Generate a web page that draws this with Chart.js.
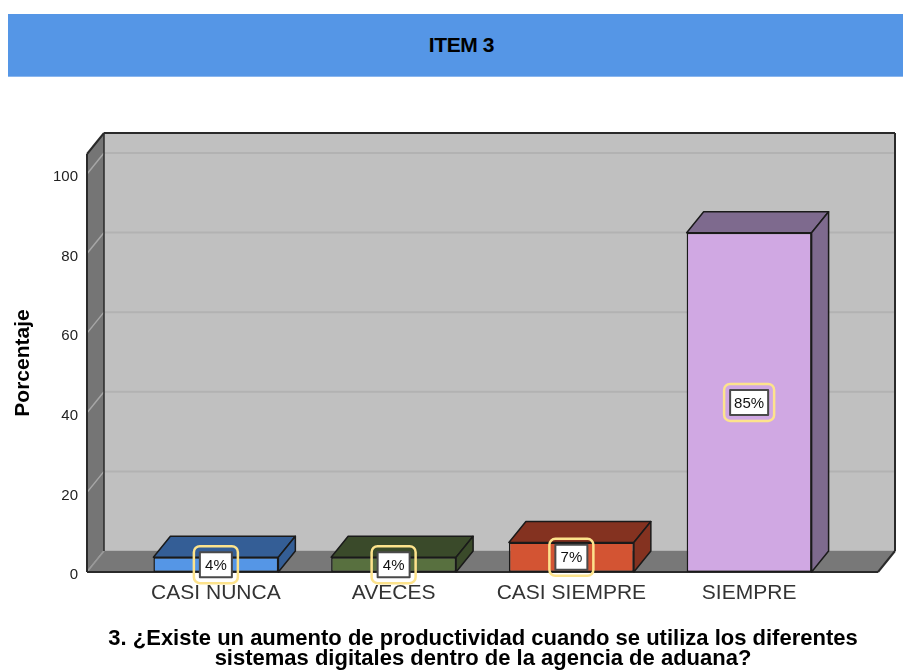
<!DOCTYPE html>
<html>
<head>
<meta charset="utf-8">
<script src="https://cdn.jsdelivr.net/npm/chart.js@4.4.1/dist/chart.umd.min.js"></script>
<style>
  html, body { margin: 0; padding: 0; background: #fff; }
  #wrap { position: relative; width: 903px; height: 671px; overflow: hidden; }
  #chart { position: absolute; left: 0; top: 0; }
  #header {
    position: absolute; left: 8px; top: 14px; width: 895px; height: 63px;
    background: #5596e6; border-bottom: 1px solid #8ab6ee; box-sizing: border-box;
    font: bold 21px "Liberation Sans", Arial, sans-serif; color: #000;
    display: flex; align-items: center; justify-content: center; padding-left: 12px;
    letter-spacing: -0.4px;
  }
  #question {
    position: absolute; left: 0; top: 628px; width: 903px; box-sizing: border-box;
    padding-left: 63px; text-align: center; white-space: pre;
    font: bold 22px/20px "Liberation Sans", Arial, sans-serif; color: #000;
  }
</style>
</head>
<body>
<div id="wrap">
  <canvas id="chart" width="903" height="671"></canvas>
  <div id="header">ITEM 3</div>
  <div id="question"></div>
</div>
<script>
const categories = ["CASI NUNCA", "AVECES", "CASI SIEMPRE", "SIEMPRE"]
const percentages = [3.7, 3.7, 7.4, 85.2]
const yTicks = [0, 20, 40, 60, 80, 100]
const questionLines = [
  "3. ¿Existe un aumento de productividad cuando se utiliza los diferentes",
  "sistemas digitales dentro de la agencia de aduana?"
]

const frontColors = ["#5596e6", "#58703f", "#d35433", "#d0a8e3"]
const darkColors = ["#345e96", "#3a4a2a", "#843220", "#7e6a8e"]

const FONT = '"Liberation Sans", Arial, sans-serif'
const DX = 17
const DY = 21
const WALL_OUT = 40

document.getElementById("question").textContent = questionLines.join("\n")

function poly(ctx, pts, fill, stroke, lw) {
  ctx.beginPath()
  ctx.moveTo(pts[0][0], pts[0][1])
  for (let i = 1; i < pts.length; i++) ctx.lineTo(pts[i][0], pts[i][1])
  ctx.closePath()
  if (fill) { ctx.fillStyle = fill; ctx.fill() }
  if (stroke) { ctx.strokeStyle = stroke; ctx.lineWidth = lw || 1; ctx.stroke() }
}

function line(ctx, x1, y1, x2, y2, color, lw) {
  ctx.beginPath()
  ctx.moveTo(x1, y1)
  ctx.lineTo(x2, y2)
  ctx.strokeStyle = color
  ctx.lineWidth = lw
  ctx.stroke()
}

function roundRect(ctx, x, y, w, h, r) {
  ctx.beginPath()
  ctx.moveTo(x + r, y)
  ctx.arcTo(x + w, y, x + w, y + h, r)
  ctx.arcTo(x + w, y + h, x, y + h, r)
  ctx.arcTo(x, y + h, x, y, r)
  ctx.arcTo(x, y, x + w, y, r)
  ctx.closePath()
}

// walls, floor and gridlines behind the bars
const box3d = {
  id: "box3d",
  beforeDatasetsDraw(chart) {
    const { ctx, chartArea: a, scales: { y } } = chart
    const L = a.left - WALL_OUT, R = a.right + WALL_OUT, T = a.top, B = a.bottom
    ctx.save()

    // back wall
    poly(ctx, [[L + DX, T - DY], [R + DX, T - DY], [R + DX, B - DY], [L + DX, B - DY]], "#c0c0c0")
    y.ticks.forEach(t => {
      const py = y.getPixelForValue(t.value) - DY
      line(ctx, L + DX, py, R + DX, py, "#b2b2b2", 2)
    })

    // left wall
    poly(ctx, [[L, T], [L + DX, T - DY], [L + DX, B - DY], [L, B]], "#757575")
    y.ticks.forEach(t => {
      const py = y.getPixelForValue(t.value)
      line(ctx, L, py, L + DX, py - DY, "#a6a6a6", 1.5)
    })

    // floor
    poly(ctx, [[L, B], [L + DX, B - DY], [R + DX, B - DY], [R, B]], "#787878")
    line(ctx, L, B, L + DX, B - DY, "#9a9a9a", 1.5)

    // outlines
    ctx.lineJoin = "round"
    line(ctx, L, B, L, T, "#2a2a2a", 2)
    line(ctx, L, T, L + DX, T - DY, "#2a2a2a", 2)
    line(ctx, L + DX, T - DY, L + DX, B - DY, "#2a2a2a", 1.5)
    line(ctx, L + DX, T - DY, R + DX, T - DY, "#2a2a2a", 2)
    line(ctx, R + DX, T - DY, R + DX, B - DY, "#2a2a2a", 2)
    line(ctx, R + DX, B - DY, R, B, "#2a2a2a", 2)
    line(ctx, L, B, R, B, "#2a2a2a", 2)
    ctx.restore()
  },

  afterDatasetsDraw(chart) {
    const { ctx } = chart
    const meta = chart.getDatasetMeta(0)
    const data = chart.data.datasets[0].data
    ctx.save()
    ctx.lineJoin = "round"
    meta.data.forEach((bar, i) => {
      const { x, y, base, width } = bar.getProps(["x", "y", "base", "width"], true)
      const x1 = x - width / 2, x2 = x + width / 2
      poly(ctx, [[x1, y], [x1 + DX, y - DY], [x2 + DX, y - DY], [x2, y]], darkColors[i], "#1a1a1a", 1.5)
      poly(ctx, [[x2, y], [x2 + DX, y - DY], [x2 + DX, base - DY], [x2, base]], darkColors[i], "#1a1a1a", 1.5)
    })

    // value labels
    ctx.font = "15px " + FONT
    ctx.textAlign = "center"
    ctx.textBaseline = "middle"
    meta.data.forEach((bar, i) => {
      const { x, y, base } = bar.getProps(["x", "y", "base"], true)
      const cy = (y + base) / 2
      const text = Math.round(data[i]) + "%"
      const w = Math.max(32, ctx.measureText(text).width + 8)
      const h = 25
      roundRect(ctx, x - w / 2 - 6, cy - h / 2 - 6, w + 12, h + 12, 6)
      ctx.strokeStyle = "#fde38c"
      ctx.lineWidth = 2.5
      ctx.stroke()
      ctx.fillStyle = "#ffffff"
      ctx.fillRect(x - w / 2, cy - h / 2, w, h)
      ctx.strokeStyle = "#4a4a4a"
      ctx.lineWidth = 2
      ctx.strokeRect(x - w / 2, cy - h / 2, w, h)
      ctx.fillStyle = "#111"
      ctx.fillText(text, x, cy + 1)
    })
    ctx.restore()
  }
}

new Chart(document.getElementById("chart"), {
  type: "bar",
  data: {
    labels: categories,
    datasets: [{
      data: percentages,
      backgroundColor: frontColors,
      borderColor: "#1a1a1a",
      borderWidth: 1.5,
      borderSkipped: false,
      categoryPercentage: 1,
      barPercentage: 0.703
    }]
  },
  options: {
    responsive: false,
    animation: false,
    events: [],
    layout: { padding: { left: 11, top: 154, right: 65, bottom: 0 } },
    plugins: {
      legend: { display: false },
      tooltip: { enabled: false }
    },
    scales: {
      x: {
        grid: { display: false, drawTicks: false },
        border: { display: false },
        ticks: { color: "#333", padding: 9, font: { family: FONT, size: 21 } },
        afterFit: (scale) => { scale.height = 99 }
      },
      y: {
        min: 0,
        max: 105,
        grid: { display: false, drawTicks: false },
        border: { display: false },
        afterBuildTicks: (scale) => {
          scale.ticks = yTicks.map(v => ({ value: v }))
        },
        ticks: { color: "#222", padding: 49, labelOffset: 3, font: { family: FONT, size: 15 } },
        title: {
          display: true,
          text: "Porcentaje",
          color: "#000",
          font: { family: FONT, size: 21, weight: "bold", lineHeight: 1.2 },
          padding: { top: 0, bottom: 0 }
        },
        afterFit: (scale) => { scale.width = 116 }
      }
    }
  },
  plugins: [box3d]
})
</script>
</body>
</html>
